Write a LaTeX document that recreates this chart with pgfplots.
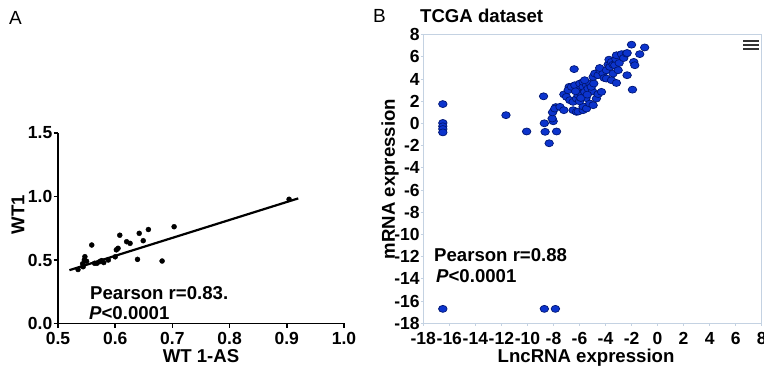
\documentclass[border=0pt]{standalone}
\usepackage{pgfplots}
\pgfplotsset{compat=1.18}
\usepackage{fontspec}
\setmainfont{Liberation Sans}
\definecolor{dotblue}{RGB}{12,52,205}
\definecolor{dotedge}{RGB}{0,22,115}
\definecolor{bordercol}{RGB}{196,210,226}
\newcommand{\fsz}[1]{\fontsize{#1}{#1}\selectfont}
\pgfplotstableread{
x y
0.535 0.425
0.543 0.470
0.544 0.447
0.546 0.500
0.547 0.526
0.550 0.490
0.559 0.618
0.564 0.474
0.568 0.474
0.573 0.487
0.576 0.495
0.580 0.480
0.588 0.500
0.600 0.525
0.602 0.580
0.605 0.592
0.608 0.695
0.620 0.644
0.626 0.631
0.639 0.505
0.642 0.710
0.649 0.652
0.658 0.740
0.682 0.492
0.703 0.762
0.904 0.978
}\dataA
\pgfplotstableread{
x y
-16.5 1.75
-16.5 0.05
-16.5 -0.25
-16.5 -0.50
-16.5 -0.80
-16.5 -16.7
-11.65 0.75
-10.06 -0.72
-8.76 2.45
-8.70 0.02
-8.64 -0.75
-8.33 -1.78
-8.70 -16.7
-7.85 -16.7
-8.02 0.20
-8.10 0.45
-7.76 -0.72
-8.07 1.00
-7.82 1.48
-7.90 1.34
-7.50 1.50
-7.20 1.20
-7.20 2.62
-7.00 2.40
-6.79 3.30
-6.41 4.90
-6.87 3.00
-6.74 2.10
-6.61 3.30
-6.49 1.20
-6.49 1.95
-6.36 3.45
-6.23 2.25
-6.23 1.05
-6.10 2.55
-6.10 1.08
-5.97 3.05
-5.97 3.60
-5.84 2.70
-5.72 3.30
-5.72 3.75
-5.72 1.20
-5.72 1.53
-5.60 2.85
-5.46 3.45
-5.46 1.35
-5.34 3.15
-5.21 3.60
-5.21 1.80
-5.00 2.90
-5.50 2.30
-6.00 2.00
-6.30 2.90
-5.90 2.30
-5.60 3.90
-5.40 2.60
-5.10 3.30
-4.90 3.60
-4.95 1.65
-4.95 4.20
-4.82 4.50
-4.70 2.25
-4.57 4.35
-4.57 2.65
-4.44 4.80
-4.31 2.85
-4.19 4.50
-4.45 5.00
-4.10 4.10
-3.93 4.80
-3.93 4.05
-3.80 5.30
-3.73 5.75
-3.67 5.10
-3.54 5.55
-3.54 3.90
-3.42 4.50
-3.42 5.30
-3.29 5.25
-3.20 5.80
-3.16 3.65
-3.16 6.15
-3.03 4.80
-2.95 5.45
-2.77 6.25
-2.60 5.90
-2.40 6.30
-2.34 6.35
-2.34 4.35
-2.00 7.10
-1.93 3.05
-1.83 5.55
-1.75 5.25
-1.37 6.25
-0.99 6.85
}\dataB
\begin{document}
\begin{tikzpicture}
\path[use as bounding box] (0pt,0pt) rectangle (764pt,366pt);
% ---------------- Panel A ----------------
\begin{axis}[
  at={(58pt,42.5pt)}, anchor=south west,
  scale only axis, width=286pt, height=190.5pt,
  xmin=0.5, xmax=1.0, ymin=0, ymax=1.5,
  axis x line*=bottom, axis y line*=left,
  axis line style={line width=1.8pt,-},
  xtick={0.5,0.6,0.7,0.8,0.9,1.0},
  ytick={0,0.5,1.0,1.5},
  tick align=outside, major tick length=4.5pt,
  tick style={line width=1.6pt,black},
  /pgf/number format/fixed, /pgf/number format/fixed zerofill,
  /pgf/number format/precision=1, /pgf/number format/assume math mode=true,
  ticklabel style={font=\bfseries\fsz{17.5}},
  yticklabel style={inner xsep=1pt},
  xticklabel style={inner ysep=2pt, yshift=-2pt},
  xlabel={WT 1-AS}, ylabel={WT1},
  xlabel style={at={(axis description cs:0.5,-0.17)}, anchor=center, inner sep=1pt, font=\bfseries\fsz{18.6}},
  ylabel style={at={(axis description cs:-0.14,0.57)}, anchor=center, font=\bfseries\fsz{18.6}},
  clip=false,
]
\addplot[only marks, mark=*, mark size=2.5pt, black] table[x=x,y=y] {\dataA};
\addplot[black, line width=2.2pt] coordinates {(0.52,0.42) (0.92,0.985)};
\end{axis}
% ---------------- Panel B ----------------
\begin{axis}[
  at={(423.3pt,42.7pt)}, anchor=south west,
  scale only axis, width=338.4pt, height=288.6pt,
  xmin=-18, xmax=8, ymin=-18, ymax=8,
  xtick={-18,-16,...,8}, ytick={-18,-16,...,8},
  xtick pos=bottom, ytick pos=left,
  axis line style={draw=bordercol, line width=1.3pt},
  tick align=outside, major tick length=2.5pt,
  tick style={draw=bordercol, line width=1pt},
  /pgf/number format/assume math mode=true,
  ticklabel style={font=\bfseries\fsz{17.5}},
  yticklabel style={inner xsep=1pt},
  xticklabel style={yshift=-3pt},
  xlabel={LncRNA expression}, ylabel={mRNA expression},
  xlabel style={at={(axis description cs:0.481,-0.119)}, anchor=center, font=\bfseries\fsz{18.6}},
  ylabel style={at={(axis description cs:-0.098,0.5)}, anchor=center, font=\bfseries\fsz{18.6}},
  clip=false,
]
\addplot[only marks, mark=*, mark size=3.5pt,
  mark options={xscale=1.22, fill=dotblue, draw=dotedge, line width=0.7pt}]
  table[x=x,y=y] {\dataB};
\draw[line width=2.2pt, color=black!80] (rel axis cs:0.945,0.9775) -- (rel axis cs:0.992,0.9775);
\draw[line width=2.2pt, color=black!80] (rel axis cs:0.945,0.9637) -- (rel axis cs:0.992,0.9637);
\draw[line width=2.2pt, color=black!80] (rel axis cs:0.945,0.950) -- (rel axis cs:0.992,0.950);
\end{axis}
% ---------------- Texts ----------------
\node[anchor=west, inner sep=0pt, font=\fsz{19}] at (9pt,348.5pt) {A};
\node[anchor=west, inner sep=0pt, font=\fsz{19}] at (373pt,350pt) {B};
\node[anchor=west, inner sep=0pt, font=\bfseries\fsz{18.6}] at (420pt,350pt) {TCGA dataset};
\node[anchor=west, inner sep=0pt, font=\bfseries\fsz{18.6}] at (90pt,73pt) {Pearson r=0.83.};
\node[anchor=west, inner sep=0pt, font=\bfseries\fsz{18.6}] at (89pt,53pt) {\textit{P}<0.0001};
\node[anchor=west, inner sep=0pt, font=\bfseries\fsz{18.6}] at (434pt,111pt) {Pearson r=0.88};
\node[anchor=west, inner sep=0pt, font=\bfseries\fsz{18.6}] at (436pt,90pt) {\textit{P}<0.0001};
\end{tikzpicture}
\end{document}
